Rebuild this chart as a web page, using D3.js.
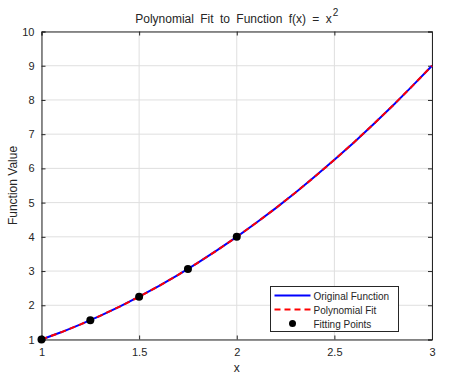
<!DOCTYPE html>
<html>
<head>
<meta charset="utf-8">
<script src="https://cdn.jsdelivr.net/npm/d3@7"></script>
<style>
body { margin: 0; background: #fff; }
text { font-family: "Liberation Sans", Arial, sans-serif; fill: #262626; }
</style>
</head>
<body>
<script>
//chart values
var xValues = [1.0, 1.1, 1.2, 1.3, 1.4, 1.5, 1.6, 1.7, 1.8, 1.9, 2.0, 2.1, 2.2, 2.3, 2.4, 2.5, 2.6, 2.7, 2.8, 2.9, 3.0];
var origValues = [1.00, 1.21, 1.44, 1.69, 1.96, 2.25, 2.56, 2.89, 3.24, 3.61, 4.00, 4.41, 4.84, 5.29, 5.76, 6.25, 6.76, 7.29, 7.84, 8.41, 9.00];
var fitValues = [1.00, 1.21, 1.44, 1.69, 1.96, 2.25, 2.56, 2.89, 3.24, 3.61, 4.00, 4.41, 4.84, 5.29, 5.76, 6.25, 6.76, 7.29, 7.84, 8.41, 9.00];
var pointX = [1.0, 1.25, 1.5, 1.75, 2.0];
var pointY = [1.0, 1.5625, 2.25, 3.0625, 4.0];
var xTicks = [1, 1.5, 2, 2.5, 3];
var yTicks = [1, 2, 3, 4, 5, 6, 7, 8, 9, 10];
var legendLabels = ["Original Function", "Polynomial Fit", "Fitting Points"];

var width = 464, height = 375;
var margin = {left: 41.5, right: 32, top: 31.5, bottom: 35.5};
var innerW = width - margin.left - margin.right,
    innerH = height - margin.top - margin.bottom;

var svg = d3.select("body").append("svg")
    .attr("width", width)
    .attr("height", height);

var x = d3.scaleLinear().domain([1, 3]).range([0, innerW]);
var y = d3.scaleLinear().domain([1, 10]).range([innerH, 0]);

var g = svg.append("g")
    .attr("transform", "translate(" + margin.left + "," + margin.top + ")");

//grid
g.selectAll(".gx").data(xTicks).enter().append("line")
    .attr("x1", function(d){ return x(d); }).attr("x2", function(d){ return x(d); })
    .attr("y1", 0).attr("y2", innerH)
    .attr("stroke", "#dfdfdf").attr("stroke-width", 1);
g.selectAll(".gy").data(yTicks).enter().append("line")
    .attr("y1", function(d){ return y(d); }).attr("y2", function(d){ return y(d); })
    .attr("x1", 0).attr("x2", innerW)
    .attr("stroke", "#dfdfdf").attr("stroke-width", 1);

//axes
var xAxis = d3.axisBottom(x).tickValues(xTicks).tickSize(-4).tickPadding(9)
    .tickFormat(function(d){ return d; });
var yAxis = d3.axisLeft(y).tickValues(yTicks).tickSize(-4).tickPadding(7)
    .tickFormat(function(d){ return d; });

var gx = g.append("g").attr("transform", "translate(0," + innerH + ")").call(xAxis);
var gy = g.append("g").call(yAxis);
var gxTop = g.append("g").call(d3.axisTop(x).tickValues(xTicks).tickSize(-4).tickFormat(""));
var gyRight = g.append("g").attr("transform", "translate(" + innerW + ",0)")
    .call(d3.axisRight(y).tickValues(yTicks).tickSize(-4).tickFormat(""));

[gx, gy, gxTop, gyRight].forEach(function(a){
    a.select(".domain").attr("stroke", "#262626").attr("stroke-width", 1);
    a.selectAll(".tick line").attr("stroke", "#262626");
    a.selectAll("text").style("font-size", "11px").attr("fill", "#262626");
});

//lines
var lineOrig = d3.line()
    .x(function(d, i){ return x(xValues[i]); })
    .y(function(d){ return y(d); });

g.append("path").datum(origValues)
    .attr("d", lineOrig)
    .attr("fill", "none").attr("stroke", "#0000ff").attr("stroke-width", 2);
g.append("path").datum(fitValues)
    .attr("d", lineOrig)
    .attr("fill", "none").attr("stroke", "#ff0000").attr("stroke-width", 2)
    .attr("stroke-dasharray", "6,4");

//points
g.selectAll(".pt").data(pointX).enter().append("circle")
    .attr("cx", function(d){ return x(d); })
    .attr("cy", function(d, i){ return y(pointY[i]); })
    .attr("r", 4).attr("fill", "#000");

//title
var title = svg.append("text")
    .attr("x", margin.left + innerW / 2).attr("y", 23)
    .attr("text-anchor", "middle").style("font-size", "12px")
    .style("word-spacing", "3px");
title.append("tspan").text("Polynomial Fit to Function f(x) = x");
title.append("tspan").attr("dy", -7).attr("dx", 1).style("font-size", "10px").text("2");

//axis labels
svg.append("text")
    .attr("x", margin.left + innerW / 2).attr("y", 372)
    .attr("text-anchor", "middle").style("font-size", "12px").text("x");
svg.append("text")
    .attr("transform", "translate(17," + (margin.top + innerH / 2) + ") rotate(-90)")
    .attr("text-anchor", "middle").style("font-size", "12px").text("Function Value");

//legend
var legend = svg.append("g").attr("transform", "translate(270.5,286.5)");
legend.append("rect")
    .attr("width", 128).attr("height", 45)
    .attr("fill", "#fff").attr("stroke", "#262626").attr("stroke-width", 1);
var rows = legend.selectAll(".row").data(legendLabels).enter().append("g")
    .attr("transform", function(d, i){ return "translate(0," + (9 + i * 14) + ")"; });
rows.append("text")
    .attr("x", 43).attr("y", 4).style("font-size", "10px").text(function(d){ return d; });
rows.filter(function(d, i){ return i == 0; }).append("line")
    .attr("x1", 4).attr("x2", 40).attr("stroke", "#0000ff").attr("stroke-width", 2);
rows.filter(function(d, i){ return i == 1; }).append("line")
    .attr("x1", 4).attr("x2", 40).attr("stroke", "#ff0000").attr("stroke-width", 2)
    .attr("stroke-dasharray", "6,4");
rows.filter(function(d, i){ return i == 2; }).append("circle")
    .attr("cx", 22).attr("r", 3.5).attr("fill", "#000");
</script>
</body>
</html>
